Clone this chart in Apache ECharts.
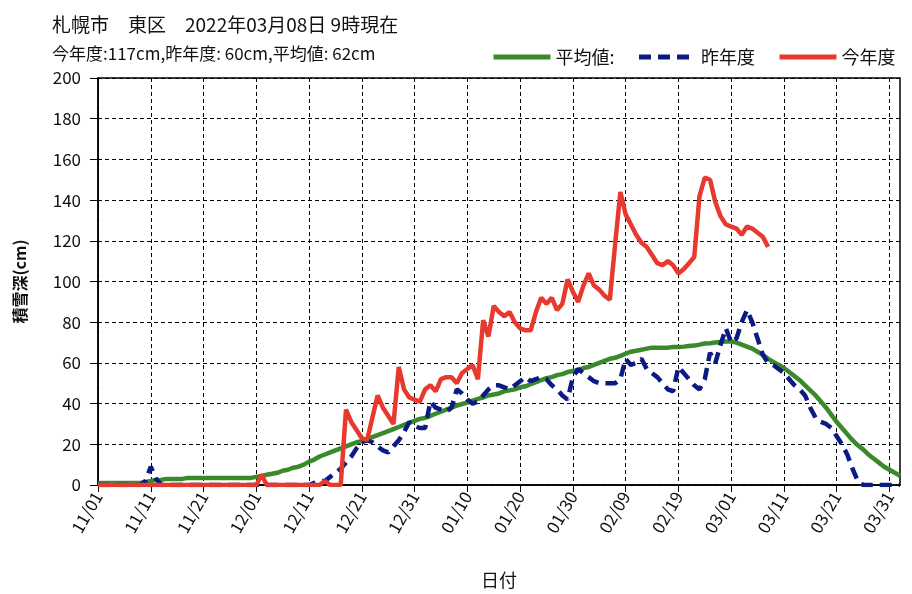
<!DOCTYPE html>
<html>
<head>
<meta charset="utf-8">
<script src="https://cdn.jsdelivr.net/npm/echarts@6/dist/echarts.min.js"></script>
<style>
  html, body { margin: 0; padding: 0; background: #fff; }
  #chart { width: 912px; height: 594px; }
</style>
</head>
<body>
<div id="chart"></div>
<script>
var FONT = "'Noto Sans CJK JP', sans-serif";

// 日付 11/01 ～ 04/02
var dates = [];
for (var i = 0; i < 153; i++) {
    var d = new Date(2021, 10, 1 + i);
    var m = d.getMonth() + 1, dd = d.getDate();
    dates.push((m < 10 ? '0' : '') + m + '/' + (dd < 10 ? '0' : '') + dd);
}

// 今年度 (11/01 ～ 03/08)
var thisYear = [
    0,0,0,0,0,0,0,0,0,0, 0,0,0,0,0,0,0,0,0,0, 0,0,0,0,0,0,0,0,0,0, 0,
    5,
    0,0,0,0,0,0,0,0,0,0,0,
    2,
    0,0,0,
    37,31,27,23,22,33,44,38,34,30,58,
    47,43,42,41,47,49,46,52,53,53,
    50,55,57,59,52,81,73,88,85,83,
    85,80,77,76,76,85,92,89,92,86,
    89,101,95,90,98,104,98,96,93,91,
    118,144,133,128,123,119,117,113,109,108,
    110,108,104,106,109,112,142,151,150,139,
    132,128,127,126,123,127,126,124,122,117
];

// 昨年度
var lastYear = [
    0,0,0,0,0,0,0,0,0,
    2,9,3,
    0,0,0,0,0,0,0,0,0,0, 0,0,0,0,0,0,0,0,0,0, 0,0,0,0,0,0,0,0,0,
    1,2,2,4,6,8,11,14,18,21,
    22,21,19,17,16,19,22,26,31,29,
    28,28,41,38,37,36,38,47,45,42,
    40,41,44,47,49,49,48,47,49,51,
    53,51,52,53,52,49,47,44,42,53,
    57,55,53,51,50,50,50,50,52,62,
    59,60,62,57,55,53,50,47,46,58,
    55,52,49,47,52,65,60,69,77,70,
    72,80,86,80,72,64,60,59,57,55,
    52,49,47,44,38,33,31,30,28,24,
    20,15,8,2,0,0,0,0,0,0,
    0,0
];

// 平均値
var average = [
    1,1,1,1,1,1,1,1,1,
    1.5,2,2.5,2.5,3,3,3,3,3.5,3.5,3.5,3.5,
    3.5,3.5,3.5,3.5,3.5,3.5,3.5,3.5,3.5,
    4,4.5,5,5.5,6,7,7.5,8.5,9,10,
    11.5,12.5,14,15,16,17,18,19,20,21,
    21.5,22.5,23.5,24.5,25.5,26.5,27.5,28.5,29.5,30.5,
    31.5,32.5,33,34,35,36,37,38,39,39.8,
    40.5,41.5,42.3,43,44,44.5,45,46,46.5,47,
    48,48.5,49.5,50.5,51.5,52.5,53,54,54.5,55.5,
    56,56.5,57.5,58,59,60,61,62,62.5,63.5,
    64.5,65.5,66,66.5,67,67.5,67.5,67.5,67.5,67.8,
    67.8,68,68.3,68.5,69,69.5,69.7,70,70.3,70.5,
    70.5,70,69,68,67,65.5,64,62,60.5,59,
    57.5,55.5,53.5,51.5,49,46.5,44,41,38,34.5,
    31,28,25,22,19.5,17.5,15,13,11,9,
    7.5,6,4.5
];

var chart = echarts.init(document.getElementById('chart'));
var dashed = { color: '#000', type: [4, 3], width: 1 };
chart.setOption({
    animation: false,
    textStyle: { fontFamily: FONT },
    title: [
        { text: '札幌市　東区　2022年03月08日 9時現在', left: 47, top: 10,
          textStyle: { fontSize: 19, fontWeight: 'normal', color: '#111', fontFamily: FONT } },
        { text: '今年度:117cm,昨年度: 60cm,平均値: 62cm', left: 47, top: 40,
          textStyle: { fontSize: 17, fontWeight: 'normal', color: '#111', fontFamily: FONT } }
    ],
    legend: {
        left: 486, top: 43,
        itemWidth: 57, itemHeight: 14, itemGap: 22,
        itemStyle: { opacity: 0 },
        lineStyle: { width: 5 },
        textStyle: { fontSize: 18, color: '#111', fontFamily: FONT },
        data: ['平均値:', '昨年度', '今年度']
    },
    grid: {
        left: 98, right: 12, top: 78, bottom: 103,
        show: true, borderColor: '#000', borderWidth: 1.5
    },
    xAxis: {
        type: 'category',
        data: dates,
        boundaryGap: false,
        name: '日付',
        nameLocation: 'middle',
        nameGap: 86,
        nameTextStyle: { fontSize: 18, color: '#111', fontFamily: FONT },
        axisLine: { lineStyle: { color: '#000', width: 1.5 } },
        axisTick: { interval: 9, length: 7, lineStyle: { color: '#000' } },
        axisLabel: { interval: 9, rotate: 60, fontSize: 17, color: '#111', margin: 8, fontFamily: FONT },
        splitLine: { show: true, interval: 9, lineStyle: dashed }
    },
    yAxis: {
        type: 'value',
        min: 0, max: 200, interval: 20,
        name: '積雪深(cm)',
        nameLocation: 'middle',
        nameGap: 70,
        nameTextStyle: { fontSize: 16, fontWeight: 'bold', color: '#111', fontFamily: FONT },
        axisLine: { show: true, lineStyle: { color: '#000', width: 1.5 } },
        axisTick: { show: true, length: 8, lineStyle: { color: '#000' } },
        axisLabel: { fontSize: 17, color: '#111', margin: 17, fontFamily: FONT },
        splitLine: { show: true, lineStyle: dashed }
    },
    series: [
        { name: '平均値:', type: 'line', data: average, symbol: 'none',
          color: '#3a8a2c', lineStyle: { color: '#3a8a2c', width: 4.5 }, z: 2 },
        { name: '昨年度', type: 'line', data: lastYear, symbol: 'none',
          color: '#0c1a84', lineStyle: { color: '#0c1a84', width: 4.5, type: [12, 7] }, z: 3 },
        { name: '今年度', type: 'line', data: thisYear, symbol: 'none',
          color: '#e8392f', lineStyle: { color: '#e8392f', width: 4.5 }, z: 4 }
    ]
});
</script>
</body>
</html>
